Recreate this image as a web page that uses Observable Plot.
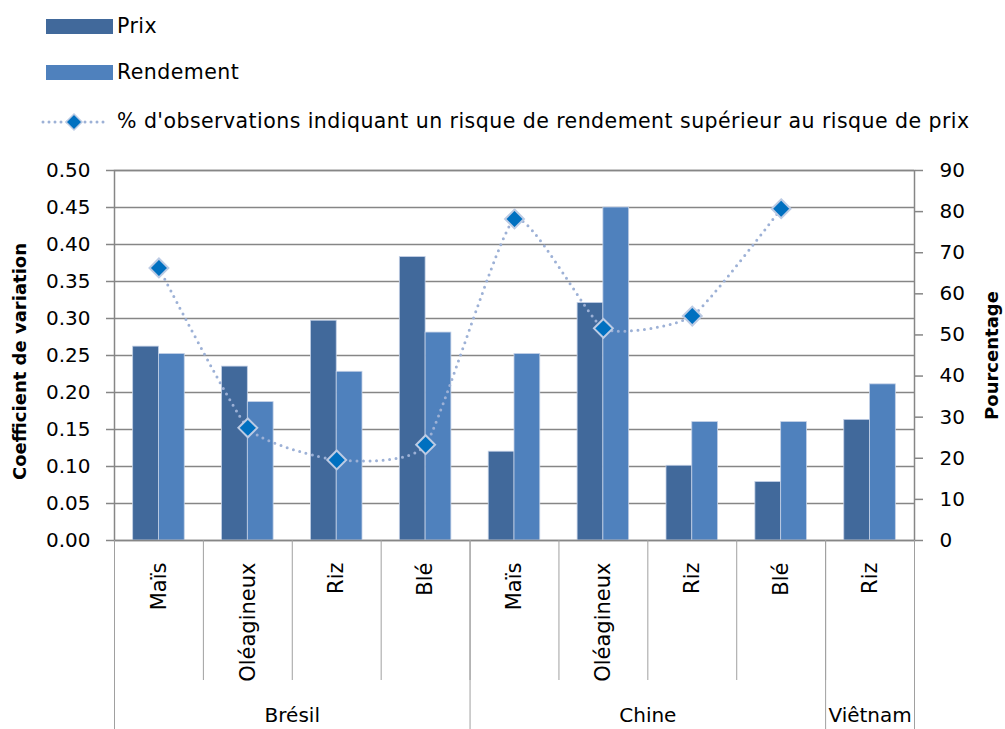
<!DOCTYPE html>
<html>
<head>
<meta charset="utf-8">
<script src="https://cdn.jsdelivr.net/npm/d3@7"></script>
<script src="https://cdn.jsdelivr.net/npm/@observablehq/plot@0.6"></script>
<style>
  html, body { margin: 0; padding: 0; background: #fff; }
  #wrap { position: relative; width: 1005px; height: 729px; overflow: hidden; font-family: "DejaVu Sans", Verdana, sans-serif; }
  #legend { position: relative; width: 1005px; height: 150px; }
  .lg-item { position: absolute; left: 0; height: 30px; width: 1005px; }
  .lg-sw { position: absolute; }
  .lg-txt { position: absolute; left: 117px; font-size: 20.5px; letter-spacing: 0.45px; color: #000; white-space: nowrap; line-height: 1; }
  #chart svg { display: block; }
</style>
</head>
<body>
<div id="wrap">
  <div id="legend"></div>
  <div id="chart"></div>
</div>
<script>
// ---- data ----
const countries = ["Brésil", "Brésil", "Brésil", "Brésil", "Chine", "Chine", "Chine", "Chine", "Viêtnam"];
const crops = ["Maïs", "Oléagineux", "Riz", "Blé", "Maïs", "Oléagineux", "Riz", "Blé", "Riz"];
const prix = [0.262, 0.235, 0.297, 0.383, 0.120, 0.321, 0.101, 0.079, 0.163];
const rendement = [0.252, 0.187, 0.228, 0.281, 0.252, 0.450, 0.160, 0.160, 0.211];
const pourcentage = [66.3, 27.4, 19.6, 23.3, 78.2, 51.6, 54.6, 80.7, null];
const leftTicks = [0, 0.05, 0.10, 0.15, 0.20, 0.25, 0.30, 0.35, 0.40, 0.45, 0.50];
const rightTicks = [0, 10, 20, 30, 40, 50, 60, 70, 80, 90];
const seriesNames = ["Prix", "Rendement", "% d'observations indiquant un risque de rendement supérieur au risque de prix"];
const axisTitles = ["Coefficient de variation", "Pourcentage"];

// ---- styles ----
const colors = { prix: "#41699B", rendement: "#4F81BD", marker: "#0070C0", markerStroke: "#BCCBE4", line: "#9DB1D6", grid: "#868686", sep: "#A0A0A0" };
const mainFont = "'DejaVu Sans', Verdana, sans-serif";

const rows = crops.map((c, i) => ({
  key: countries[i] + "|" + c + "|" + i,
  crop: c, country: countries[i],
  prix: prix[i], rendement: rendement[i], pct: pourcentage[i]
}));
const keys = rows.map(r => r.key);
const groups = Array.from(d3.group(rows, r => r.country), ([name, members]) => ({ name, members: members.map(m => m.key) }));

const W = 1005, H = 579, ML = 114, MR = 91, MT = 20, MB = 189;
const bw = (W - ML - MR) / rows.length;
const barW = bw * 0.29;
const k = leftTicks[leftTicks.length - 1] / rightTicks[rightTicks.length - 1];
const lastKey = keys[keys.length - 1];

// ---- legend ----
const legend = document.getElementById("legend");
legend.innerHTML = `
  <div class="lg-item" style="top:12px">
    <div class="lg-sw" style="left:46px;top:7px;width:67px;height:15px;background:${colors.prix}"></div>
    <div class="lg-txt" style="top:4px">${seriesNames[0]}</div>
  </div>
  <div class="lg-item" style="top:58px">
    <div class="lg-sw" style="left:46px;top:7px;width:67px;height:15px;background:${colors.rendement}"></div>
    <div class="lg-txt" style="top:4px">${seriesNames[1]}</div>
  </div>
  <div class="lg-item" style="top:107px">
    <svg class="lg-sw" style="left:38px;top:2px" width="72" height="26">
      <line x1="5" y1="13" x2="68" y2="13" stroke="${colors.line}" stroke-width="3" stroke-dasharray="0 6" stroke-linecap="round"/>
      <path d="M36,5 L44,13 L36,21 L28,13 Z" fill="${colors.marker}" stroke="${colors.markerStroke}" stroke-width="1.5"/>
    </svg>
    <div class="lg-txt" style="top:4px">${seriesNames[2]}</div>
  </div>`;

// ---- chart ----
const groupLabelMarks = groups.map(g => {
  const n = g.members.length;
  const even = n % 2 === 0;
  const key = even ? g.members[n / 2] : g.members[(n - 1) / 2];
  return Plot.text([g], {
    x: () => key, text: "name", frameAnchor: "bottom", dy: 181,
    dx: even ? -bw / 2 : 0, fontSize: 20, fontFamily: mainFont, fill: "#000"
  });
});

const chart = Plot.plot({
  width: W, height: H,
  marginLeft: ML, marginRight: MR, marginTop: MT, marginBottom: MB,
  style: { background: "white", overflow: "visible", fontFamily: mainFont },
  x: { type: "band", domain: keys, padding: 0, round: false },
  y: { domain: [0, 0.5] },
  marks: [
    Plot.gridY(leftTicks, { stroke: colors.grid, strokeOpacity: 1, strokeWidth: 1.5 }),
    Plot.barY(rows, { x: "key", y: "prix", fill: colors.prix, insetLeft: bw / 2 - barW, insetRight: bw / 2, stroke: "#C3D0E6", strokeWidth: 0.8 }),
    Plot.barY(rows, { x: "key", y: "rendement", fill: colors.rendement, insetLeft: bw / 2, insetRight: bw / 2 - barW, stroke: "#C3D0E6", strokeWidth: 0.8 }),
    Plot.frame({ stroke: colors.grid, strokeWidth: 1.5 }),
    Plot.axisY(leftTicks, { anchor: "left", label: null, tickSize: 8, tickPadding: 16, tickFormat: d3.format(".2f"), stroke: colors.grid, strokeWidth: 1.5, fontSize: 20, fontFamily: mainFont, fill: "#000" }),
    Plot.axisY(rightTicks.map(v => v * k), { anchor: "right", label: null, tickSize: 8, tickPadding: 17, tickFormat: v => Math.round(v / k), stroke: colors.grid, strokeWidth: 1.5, fontSize: 20, fontFamily: mainFont, fill: "#000" }),
    Plot.axisX(keys, { anchor: "bottom", label: null, tickSize: 140, dx: -bw / 2, tickFormat: () => "", stroke: colors.sep, strokeWidth: 1 }),
    Plot.axisX(groups.map(g => g.members[0]), { anchor: "bottom", label: null, tickSize: 189, dx: -bw / 2, tickFormat: () => "", stroke: colors.sep, strokeWidth: 1 }),
    Plot.axisX([lastKey], { anchor: "bottom", label: null, tickSize: 189, dx: bw / 2, tickFormat: () => "", stroke: colors.sep, strokeWidth: 1 }),
    Plot.text(rows, { x: "key", text: "crop", frameAnchor: "bottom", rotate: -90, textAnchor: "end", lineAnchor: "middle", dy: 22, fontSize: 21, fontFamily: mainFont, fill: "#000" }),
    ...groupLabelMarks,
    Plot.text([axisTitles[0]], { text: d => d, frameAnchor: "left", textAnchor: "middle", lineAnchor: "middle", rotate: -90, dx: -94, dy: 6, fontSize: 18, fontWeight: "bold", fontFamily: mainFont, fill: "#000" }),
    Plot.text([axisTitles[1]], { text: d => d, frameAnchor: "right", textAnchor: "middle", lineAnchor: "middle", rotate: -90, dx: 78, dy: 0, fontSize: 18, fontWeight: "bold", fontFamily: mainFont, fill: "#000" }),
    Plot.line(rows, { x: "key", y: d => d.pct == null ? NaN : d.pct * k, curve: "cardinal", tension: 0.5, stroke: colors.line, strokeWidth: 3, strokeDasharray: "0 6.5", strokeLinecap: "round" }),
    Plot.dot(rows, { x: "key", y: d => d.pct == null ? NaN : d.pct * k, symbol: "diamond2", r: 8.5, fill: colors.marker, stroke: colors.markerStroke, strokeWidth: 2 })
  ]
});
document.getElementById("chart").appendChild(chart);
</script>
</body>
</html>
